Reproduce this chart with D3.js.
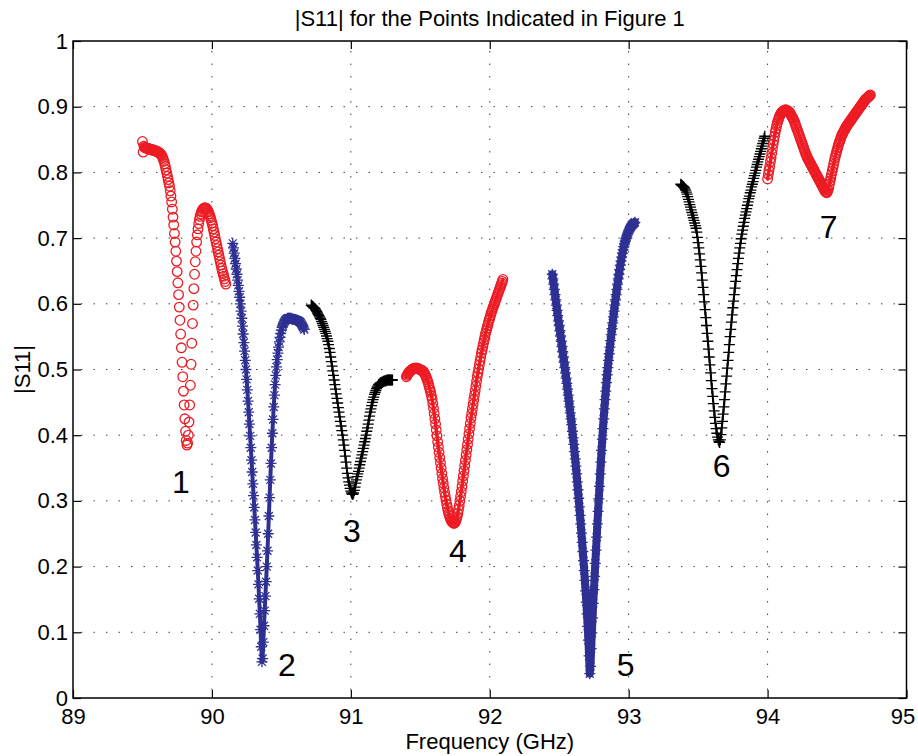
<!DOCTYPE html>
<html>
<head>
<meta charset="utf-8">
<script src="https://cdn.jsdelivr.net/npm/d3@7"></script>
<style>
  body { margin: 0; background: #fff; }
  svg { display: block; font-family: "Liberation Sans", Arial, Helvetica, sans-serif; }
</style>
</head>
<body>
<svg id="chart" width="918" height="756"></svg>
<script>
// frequency step of the sweep (GHz)
const step = 0.005;

// |S11|, one array per marked point
const seg1Start = 89.500;
const seg1 = [.847,.831,.840,.838,.838,.837,.837,.837,.836,.836,
  .836,.835,.835,.835,.834,.834,.834,.833,.833,.833,
  .832,.832,.831,.831,.830,.829,.828,.827,.825,.823,
  .820,.817,.813,.809,.804,.799,.794,.789,.784,.779,
  .772,.764,.755,.744,.732,.720,.707,.694,.680,.665,
  .649,.632,.614,.595,.575,.554,.533,.511,.489,.467,
  .446,.425,.406,.392,.385,.388,.400,.420,.446,.476,
  .508,.540,.570,.598,.623,.645,.664,.680,.694,.705,
  .714,.722,.728,.733,.737,.740,.742,.744,.745,.746,
  .746,.746,.745,.744,.742,.740,.737,.734,.731,.727,
  .723,.719,.714,.709,.704,.699,.694,.689,.684,.679,
  .674,.669,.664,.659,.654,.650,.646,.642,.638,.634,
  .630];

const seg2Start = 90.150;
const seg2 = [.692,.685,.677,.669,.661,.653,.645,.636,.628,.619,
  .610,.600,.589,.578,.566,.554,.541,.528,.514,.500,
  .485,.469,.452,.435,.417,.399,.381,.362,.344,.326,
  .308,.290,.271,.252,.233,.214,.194,.173,.151,.128,
  .104,.078,.055,.060,.085,.110,.133,.155,.177,.200,
  .224,.250,.277,.305,.332,.357,.381,.403,.424,.443,
  .461,.477,.491,.504,.515,.525,.534,.542,.549,.555,
  .560,.564,.567,.570,.572,.574,.575,.576,.577,.578,
  .578,.578,.578,.578,.578,.577,.577,.577,.576,.576,
  .576,.575,.575,.575,.574,.574,.573,.572,.571,.569,
  .567,.565,.563,.561];

const seg3Start = 90.715;
const seg3 = [.598,.597,.596,.595,.594,.593,.592,.590,.588,.586,
  .584,.582,.580,.578,.576,.573,.570,.567,.564,.561,
  .558,.555,.551,.547,.543,.538,.532,.526,.519,.512,
  .505,.498,.491,.484,.477,.470,.463,.456,.449,.442,
  .435,.428,.421,.414,.407,.400,.393,.385,.377,.368,
  .359,.350,.342,.335,.329,.324,.319,.315,.312,.310,
  .310,.312,.316,.321,.327,.332,.337,.341,.345,.350,
  .355,.360,.365,.370,.375,.380,.385,.390,.395,.400,
  .406,.411,.417,.423,.429,.435,.440,.445,.450,.454,
  .458,.462,.465,.468,.471,.473,.475,.477,.478,.479,
  .480,.480,.481,.481,.482,.482,.483,.483,.483,.484,
  .484,.484,.484,.484,.484,.484,.484,.484];

const seg4Start = 91.400;
const seg4 = [.489,.491,.493,.495,.496,.497,.498,.499,.500,.501,
  .501,.502,.502,.502,.502,.502,.502,.501,.501,.500,
  .500,.499,.499,.498,.497,.496,.494,.492,.490,.487,
  .484,.481,.477,.473,.469,.465,.460,.455,.448,.441,
  .433,.425,.417,.408,.399,.390,.382,.374,.366,.358,
  .350,.342,.334,.327,.320,.313,.307,.301,.295,.290,
  .285,.281,.277,.274,.271,.269,.268,.267,.266,.266,
  .267,.269,.272,.276,.281,.287,.293,.300,.307,.314,
  .322,.330,.338,.346,.354,.362,.370,.378,.386,.394,
  .402,.410,.418,.426,.433,.440,.447,.454,.461,.468,
  .475,.482,.489,.495,.501,.507,.513,.519,.525,.530,
  .535,.540,.545,.550,.555,.559,.563,.567,.571,.575,
  .578,.582,.586,.589,.592,.595,.598,.601,.604,.607,
  .610,.613,.616,.619,.622,.625,.628,.631,.634,.637];

const seg5Start = 92.450;
const seg5 = [.645,.638,.630,.622,.614,.606,.598,.590,.582,.574,
  .567,.559,.551,.543,.535,.527,.519,.511,.503,.495,
  .487,.479,.470,.461,.452,.443,.434,.425,.416,.406,
  .396,.386,.375,.364,.353,.341,.329,.317,.304,.291,
  .278,.265,.251,.237,.223,.209,.194,.179,.163,.146,
  .128,.109,.088,.064,.037,.048,.075,.099,.122,.144,
  .165,.185,.205,.225,.245,.265,.284,.303,.322,.341,
  .359,.377,.394,.410,.425,.440,.454,.467,.480,.492,
  .503,.514,.524,.534,.544,.553,.562,.571,.580,.589,
  .598,.606,.614,.622,.630,.638,.645,.652,.659,.665,
  .671,.677,.682,.687,.691,.695,.699,.702,.705,.708,
  .711,.713,.715,.717,.719,.720,.721,.722,.723,.724];

const seg6Start = 93.375;
const seg6 = [.782,.781,.780,.779,.778,.777,.775,.773,.770,.767,
  .763,.759,.755,.751,.747,.743,.739,.735,.731,.727,
  .723,.719,.715,.709,.701,.693,.685,.676,.667,.657,
  .647,.636,.625,.614,.603,.591,.579,.567,.555,.543,
  .531,.519,.507,.495,.483,.471,.459,.448,.437,.427,
  .418,.410,.403,.397,.393,.390,.389,.393,.401,.411,
  .421,.432,.443,.454,.466,.478,.490,.502,.514,.526,
  .538,.550,.561,.572,.583,.594,.604,.614,.624,.634,
  .643,.652,.661,.669,.677,.685,.692,.699,.706,.712,
  .718,.724,.730,.735,.740,.745,.750,.755,.760,.764,
  .769,.773,.778,.782,.786,.791,.795,.799,.803,.808,
  .812,.816,.820,.824,.828,.832,.836,.840,.844,.848,
  .852,.855];

const seg7Start = 94.000;
const seg7 = [.790,.797,.803,.809,.816,.822,.829,.836,.843,.849,
  .855,.861,.866,.871,.875,.879,.882,.885,.887,.889,
  .891,.892,.893,.894,.894,.895,.895,.895,.894,.894,
  .893,.892,.891,.889,.887,.885,.883,.881,.879,.876,
  .873,.870,.867,.864,.861,.858,.855,.852,.849,.846,
  .843,.840,.837,.834,.831,.828,.826,.823,.821,.819,
  .817,.815,.813,.811,.809,.807,.805,.803,.801,.799,
  .797,.795,.793,.791,.789,.787,.785,.783,.781,.779,
  .777,.775,.773,.771,.770,.769,.770,.773,.777,.782,
  .787,.792,.797,.802,.807,.812,.817,.822,.826,.830,
  .834,.838,.842,.845,.848,.851,.854,.857,.859,.861,
  .863,.865,.867,.869,.871,.872,.874,.875,.877,.878,
  .880,.881,.883,.884,.886,.887,.889,.890,.892,.893,
  .895,.896,.898,.899,.901,.902,.904,.905,.907,.908,
  .910,.911,.912,.913,.914,.915,.916,.917,.918];

// point labels written on the plot (data coordinates)
const labelText = ["1", "2", "3", "4", "5", "6", "7"];
const labelFreq = [89.777, 90.540, 91.007, 91.770, 92.978, 93.669, 94.439];
const labelLevel = [0.312, 0.034, 0.237, 0.207, 0.034, 0.336, 0.700];

// axis ticks
const xTicks = [89, 90, 91, 92, 93, 94, 95];
const yTicks = [0, 0.1, 0.2, 0.3, 0.4, 0.5, 0.6, 0.7, 0.8, 0.9, 1];
const yTickLabels = ["0", "0.1", "0.2", "0.3", "0.4", "0.5", "0.6", "0.7", "0.8", "0.9", "1"];

const red = "#ed1c24", blue = "#2e3192", black = "#000";

// drawn in this order: circles, then stars, then pluses.
// band = width of the dense trace the overlapping markers form
const series = [
  {start: seg1Start, values: seg1, marker: "o", color: red, band: 0},
  {start: seg4Start, values: seg4, marker: "o", color: red, band: 3.5},
  {start: seg7Start, values: seg7, marker: "o", color: red, band: 3.5},
  {start: seg2Start, values: seg2, marker: "*", color: blue, band: 4},
  {start: seg5Start, values: seg5, marker: "*", color: blue, band: 8},
  {start: seg3Start, values: seg3, marker: "+", color: black, band: 2},
  {start: seg6Start, values: seg6, marker: "+", color: black, band: 2}
];

const plotLeft = 73, plotRight = 906.5, plotTop = 41, plotBottom = 698;
const fontSize = 22;

const svg = d3.select("#chart");
const x = d3.scaleLinear().domain([89, 95]).range([plotLeft, plotRight]);
const y = d3.scaleLinear().domain([0, 1]).range([plotBottom, plotTop]);

// dotted grid
const grid = svg.append("g")
    .attr("stroke", "#333")
    .attr("stroke-width", 1)
    .attr("stroke-dasharray", "1.4,11.1")
    .attr("stroke-dashoffset", 4.5);
grid.selectAll("line.gx")
    .data(xTicks.slice(1, -1))
    .enter().append("line")
    .attr("class", "gx")
    .attr("x1", d => x(d)).attr("x2", d => x(d))
    .attr("y1", plotBottom).attr("y2", plotTop);
grid.selectAll("line.gy")
    .data(yTicks.slice(1, -1))
    .enter().append("line")
    .attr("class", "gy")
    .attr("x1", plotLeft).attr("x2", plotRight)
    .attr("y1", d => y(d)).attr("y2", d => y(d));

// markers
const plusPath = "M-5.5,0H5.5M0,-5.5V5.5";
const starPath = "M-5.5,0H5.5M0,-5.5V5.5M-4,-4L4,4M-4,4L4,-4";

const trace = d3.line().x(d => x(d.f)).y(d => y(d.v));

series.forEach(s => {
    const pts = s.values.map((v, i) => ({f: s.start + i * step, v: v}));
    const g = svg.append("g")
        .attr("fill", "none")
        .attr("stroke", s.color);
    if (s.band > 0) {
        g.append("path")
            .datum(pts)
            .attr("stroke-width", s.band)
            .attr("stroke-linejoin", "round")
            .attr("stroke-linecap", "round")
            .attr("d", trace);
    }
    if (s.marker === "o") {
        g.attr("stroke-width", 1.3);
        g.selectAll("circle")
            .data(pts)
            .enter().append("circle")
            .attr("cx", d => x(d.f))
            .attr("cy", d => y(d.v))
            .attr("r", 4.8);
    } else {
        g.attr("stroke-width", 1.3);
        g.selectAll("path.m")
            .data(pts)
            .enter().append("path")
            .attr("class", "m")
            .attr("transform", d => `translate(${x(d.f)},${y(d.v)})`)
            .attr("d", s.marker === "*" ? starPath : plusPath);
    }
});

// axes: labelled bottom/left, plain top/right, ticks pointing in
const xAxis = svg.append("g")
    .attr("transform", `translate(0,${plotBottom})`)
    .call(d3.axisBottom(x).tickValues(xTicks).tickFormat(d3.format("d"))
        .tickSizeInner(-8).tickSizeOuter(0).tickPadding(10));
svg.append("g")
    .attr("transform", `translate(${plotLeft},0)`)
    .call(d3.axisLeft(y).tickValues(yTicks).tickFormat((d, i) => yTickLabels[i])
        .tickSizeInner(-8).tickSizeOuter(0).tickPadding(5));
svg.append("g")
    .attr("transform", `translate(0,${plotTop})`)
    .call(d3.axisTop(x).tickValues(xTicks).tickFormat("").tickSizeInner(-8).tickSizeOuter(0));
svg.append("g")
    .attr("transform", `translate(${plotRight},0)`)
    .call(d3.axisRight(y).tickValues(yTicks).tickFormat("").tickSizeInner(-8).tickSizeOuter(0));

svg.selectAll(".domain").remove();
svg.selectAll(".tick line").attr("stroke", "#000").attr("stroke-width", 1.2);
svg.selectAll(".tick text")
    .attr("fill", "#000")
    .style("font-size", fontSize + "px")
    .style("font-family", '"Liberation Sans", Arial, Helvetica, sans-serif');
// keep the last frequency label inside the figure
xAxis.selectAll(".tick text").filter(d => d === 95).attr("dx", -4);

svg.append("rect")
    .attr("x", plotLeft).attr("y", plotTop)
    .attr("width", plotRight - plotLeft).attr("height", plotBottom - plotTop)
    .attr("fill", "none")
    .attr("stroke", "#000")
    .attr("stroke-width", 1.5);

// point numbers
svg.append("g")
    .selectAll("text")
    .data(labelText)
    .enter().append("text")
    .attr("x", (d, i) => x(labelFreq[i]))
    .attr("y", (d, i) => y(labelLevel[i]))
    .attr("text-anchor", "middle")
    .style("font-size", "32px")
    .text(d => d);

// title and axis labels
svg.append("text")
    .attr("x", (plotLeft + plotRight) / 2)
    .attr("y", 26)
    .attr("text-anchor", "middle")
    .style("font-size", fontSize + "px")
    .text("|S11| for the Points Indicated in Figure 1");

svg.append("text")
    .attr("x", (plotLeft + plotRight) / 2)
    .attr("y", 749)
    .attr("text-anchor", "middle")
    .style("font-size", fontSize + "px")
    .text("Frequency (GHz)");

svg.append("text")
    .attr("transform", `translate(30,${(plotTop + plotBottom) / 2}) rotate(-90)`)
    .attr("text-anchor", "middle")
    .style("font-size", fontSize + "px")
    .text("|S11|");
</script>
</body>
</html>
